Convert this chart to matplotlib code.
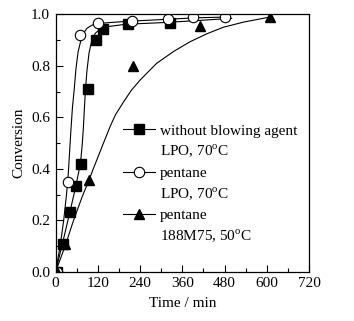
import matplotlib
matplotlib.use("Agg")
import matplotlib.pyplot as plt
from matplotlib.lines import Line2D
from matplotlib.ticker import MultipleLocator

plt.rcParams['font.family'] = ['Liberation Serif', 'DejaVu Serif']
plt.rcParams['mathtext.fontset'] = 'custom'
plt.rcParams['mathtext.rm'] = 'Liberation Serif'

# measured points
t_none = [5, 20, 40, 58, 72, 91, 116, 136, 205, 325]
c_none = [0.0, 0.11, 0.234, 0.334, 0.42, 0.712, 0.90, 0.942, 0.964, 0.966]

t_pent = [5, 35, 68, 121, 218, 320, 389, 482]
c_pent = [0.0, 0.351, 0.922, 0.967, 0.973, 0.983, 0.99, 0.99]

t_188 = [5, 26, 96, 221, 409, 609]
c_188 = [0.0, 0.108, 0.358, 0.799, 0.957, 0.992]

# fitted curves
ft_none = [0, 19.5, 35, 47, 57, 66, 72, 76, 79, 82, 85, 89, 95, 103, 113, 126, 150, 200, 300, 400, 500]
fc_none = [0.0, 0.11, 0.2, 0.27, 0.33, 0.39, 0.44, 0.5, 0.56, 0.64, 0.71, 0.78, 0.85, 0.90, 0.927, 0.943, 0.953, 0.962, 0.968, 0.976, 0.985]

ft_pent = [0, 13, 23, 31, 36, 40, 44, 48, 53, 58, 64, 72, 80, 89, 103, 120, 200, 300, 400, 490]
fc_pent = [0.0, 0.1, 0.2, 0.3, 0.38, 0.47, 0.56, 0.64, 0.71, 0.79, 0.855, 0.90, 0.928, 0.946, 0.958, 0.965, 0.973, 0.98, 0.987, 0.99]

ft_188 = [0, 27, 51, 75, 96, 107, 136, 155, 170, 193, 215, 240, 287, 335, 382, 430, 476, 533, 609]
fc_188 = [0.0, 0.10, 0.20, 0.29, 0.36, 0.40, 0.50, 0.565, 0.61, 0.66, 0.705, 0.745, 0.81, 0.856, 0.894, 0.925, 0.95, 0.97, 0.99]

labels = ['without blowing agent', 'LPO, 70$^\\mathrm{o}$C',
          'pentane', 'LPO, 70$^\\mathrm{o}$C',
          'pentane', '188M75, 50$^\\mathrm{o}$C']

fig = plt.figure(figsize=(3.54, 3.21), dpi=100)
ax = fig.add_axes([0.157, 0.153, 0.716, 0.802])

lw = 0.8
ax.plot(ft_none, fc_none, 'k-', lw=lw)
ax.plot(ft_pent, fc_pent, 'k-', lw=lw)
ax.plot(ft_188, fc_188, 'k-', lw=lw)
ax.plot(t_none, c_none, 'ks', ms=6.5, ls='none')
ax.plot(t_pent, c_pent, 'o', ms=7.5, mfc='white', mec='black', mew=0.8, ls='none')
ax.plot(t_188, c_188, 'k^', ms=7.5, ls='none')

ax.set_xlim(0, 720)
ax.set_ylim(0, 1.0)
ax.xaxis.set_major_locator(MultipleLocator(120))
ax.xaxis.set_minor_locator(MultipleLocator(60))
ax.yaxis.set_major_locator(MultipleLocator(0.2))
ax.yaxis.set_minor_locator(MultipleLocator(0.1))
ax.yaxis.set_major_formatter(plt.FormatStrFormatter('%.1f'))
ax.tick_params(which='both', direction='in', labelsize=11, top=False, right=False)
ax.tick_params(which='major', length=5, width=0.8, pad=4)
ax.tick_params(which='minor', length=3, width=0.8)
for s in ax.spines.values():
    s.set_linewidth(0.9)

ax.set_xlabel('Time / min', fontsize=11, labelpad=5)
ax.set_ylabel('Conversion', fontsize=11, labelpad=4)

blank = Line2D([], [], ls='none')
h1 = Line2D([], [], color='k', lw=lw, marker='s', ms=6.5)
h2 = Line2D([], [], color='k', lw=lw, marker='o', ms=7.5, mfc='white', mec='k', mew=0.8)
h3 = Line2D([], [], color='k', lw=lw, marker='^', ms=7.5)
leg = ax.legend([h1, blank, h2, blank, h3, blank], labels,
                loc='upper left', bbox_to_anchor=(0.266, 0.575), frameon=False,
                fontsize=11, handlelength=2.1, handletextpad=0.3,
                labelspacing=0.38, borderpad=0, borderaxespad=0)

fig.savefig('out.png', dpi=100)
